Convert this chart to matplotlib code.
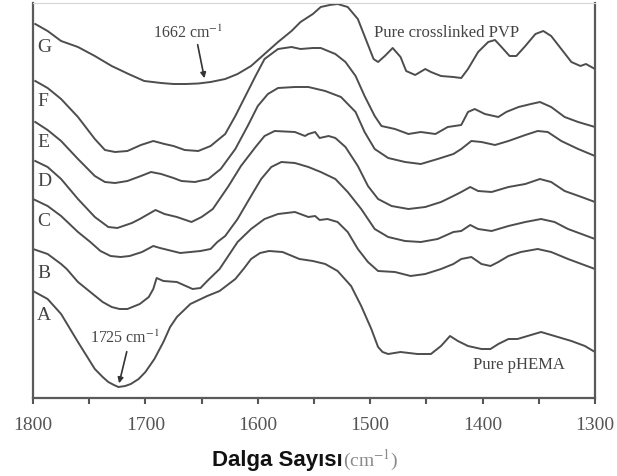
import matplotlib.pyplot as plt
from matplotlib.ticker import MultipleLocator

# FTIR spectra, offset curves A..G (y = transmittance, arbitrary units)
wn_G = [1798, 1787, 1775, 1760, 1745, 1730, 1715, 1701, 1686, 1675, 1664, 1653, 1642, 1629,
        1618, 1606, 1594, 1582, 1570, 1562, 1551, 1544, 1536, 1529, 1520, 1511, 1504, 1497,
        1493, 1487, 1480, 1473, 1468, 1460, 1451, 1446, 1437, 1426, 1419, 1413, 1404, 1395,
        1389, 1384, 1376, 1370, 1362, 1353, 1346, 1339, 1330, 1321, 1313, 1308, 1300]
t_G = [375, 368, 358, 352, 343, 333, 325, 318, 316, 315, 315, 315.5, 317, 320,
       325, 333, 345, 357, 368, 377, 385, 392, 394, 395, 392, 380, 360, 340,
       337, 343, 351, 342, 328, 324, 330, 327, 323, 322, 321, 330, 347, 357,
       359, 353, 343, 343, 353, 365, 368, 363, 350, 337, 333, 335, 330]

wn_F = [1798, 1787, 1775, 1760, 1745, 1736, 1727, 1716, 1704, 1693, 1683, 1675, 1665, 1653,
        1642, 1629, 1620, 1611, 1602, 1594, 1582, 1570, 1562, 1551, 1544, 1531, 1522, 1513,
        1505, 1496, 1490, 1478, 1466, 1455, 1442, 1431, 1419, 1413, 1407, 1398, 1386, 1379,
        1368, 1357, 1349, 1339, 1327, 1315, 1300]
t_F = [318, 311, 300, 282, 260, 249, 247, 248, 254, 258, 255, 253, 249, 248,
       253, 265, 283, 303, 323, 340, 350, 352, 350, 351, 351, 345, 337, 323,
       303, 283, 273, 270, 265, 267, 265, 272, 274, 287, 290, 285, 282, 287,
       292, 295, 297, 292, 282, 277, 272]

wn_E = [1798, 1787, 1775, 1760, 1745, 1736, 1727, 1716, 1704, 1695, 1686, 1675, 1668, 1656,
        1644, 1633, 1620, 1609, 1600, 1591, 1582, 1567, 1555, 1540, 1526, 1513, 1505, 1496,
        1484, 1469, 1455, 1440, 1426, 1419, 1410, 1401, 1389, 1377, 1362, 1351, 1342, 1330,
        1315, 1300]
t_E = [277, 269, 258, 240, 223, 217, 216, 218, 223, 227, 225, 221, 218, 217,
       220, 230, 250, 273, 293, 305, 311, 312, 312, 308, 302, 287, 267, 250,
       241, 237, 235, 240, 245, 250, 258, 257, 254, 258, 264, 268, 267, 258,
       250, 243]

wn_D = [1798, 1787, 1775, 1760, 1745, 1733, 1725, 1712, 1705, 1691, 1683, 1672, 1659, 1650,
        1640, 1626, 1615, 1602, 1594, 1585, 1567, 1558, 1555, 1549, 1545, 1537, 1531, 1522,
        1511, 1502, 1493, 1481, 1466, 1451, 1437, 1426, 1419, 1411, 1404, 1392, 1377, 1362,
        1349, 1339, 1327, 1312, 1300]
t_D = [238, 232, 220, 200, 182, 172, 171, 176, 180, 189, 185, 182, 177, 182,
       190, 213, 233, 252, 263, 268, 267, 263, 265, 267, 261, 263, 261, 252,
       233, 213, 200, 193, 190, 192, 197, 203, 207, 212, 208, 207, 212, 215,
       220, 217, 208, 202, 197]

wn_C = [1800, 1787, 1775, 1760, 1749, 1740, 1731, 1722, 1714, 1703, 1693, 1687, 1669, 1651,
        1642, 1636, 1629, 1618, 1606, 1597, 1588, 1579, 1567, 1555, 1544, 1531, 1520, 1508,
        1496, 1484, 1469, 1455, 1440, 1426, 1419, 1411, 1404, 1392, 1377, 1362, 1348, 1336,
        1324, 1312, 1300]
t_C = [200, 193, 183, 167, 157, 148, 143, 142, 143, 147, 153, 151, 146, 148,
       150, 157, 163, 180, 203, 220, 232, 237, 236, 232, 227, 220, 207, 190,
       170, 162, 158, 157, 160, 167, 168, 174, 170, 168, 173, 177, 180, 177,
       170, 165, 160]

wn_B = [1800, 1787, 1775, 1770, 1760, 1749, 1738, 1730, 1723, 1716, 1705, 1697, 1693, 1690,
        1684, 1672, 1658, 1651, 1645, 1634, 1618, 1606, 1594, 1582, 1567, 1555, 1549, 1545,
        1538, 1529, 1520, 1511, 1502, 1493, 1478, 1464, 1451, 1437, 1426, 1419, 1410, 1401,
        1393, 1386, 1377, 1366, 1351, 1339, 1324, 1312, 1300]
t_B = [150, 145, 135, 130, 117, 107, 97, 92, 90, 90, 95, 102, 110, 121,
       118, 117, 110, 111, 118, 130, 157, 170, 180, 185, 187, 182, 183, 179,
       180, 177, 167, 150, 137, 128, 127, 123, 125, 130, 135, 140, 142, 135,
       133, 137, 143, 147, 150, 147, 140, 135, 130]

wn_A = [1800, 1787, 1775, 1760, 1745, 1738, 1733, 1728, 1724, 1718, 1713, 1706, 1700, 1692,
        1684, 1678, 1672, 1660, 1645, 1634, 1620, 1612, 1606, 1598, 1590, 1578, 1563, 1551,
        1540, 1529, 1517, 1508, 1499, 1493, 1489, 1484, 1473, 1458, 1446, 1437, 1429, 1422,
        1413, 1401, 1393, 1386, 1377, 1369, 1360, 1348, 1336, 1321, 1309, 1300]
t_A = [108, 100, 85, 57, 30, 22, 17, 14, 12, 13, 15, 20, 27, 40,
       57, 72, 82, 95, 103, 108, 120, 131, 140, 146, 148, 147, 140, 138,
       135, 128, 113, 93, 70, 52, 47, 45, 47, 45, 45, 53, 63, 58,
       53, 50, 50, 55, 60, 60, 63, 67, 63, 58, 53, 47]

curve_labels = ['G', 'F', 'E', 'D', 'C', 'B', 'A']
label_y = [352, 298, 257, 218, 178, 127, 85]

line_col = '#4d4d4d'
serif = ['Liberation Serif', 'DejaVu Serif']
plt.rcParams['mathtext.fontset'] = 'stix'

fig = plt.figure(figsize=(6.17, 4.77), dpi=100)
ax = fig.add_axes([33 / 617, 1 - 399 / 477, 562 / 617, 395 / 477])

for wn, t in [(wn_G, t_G), (wn_F, t_F), (wn_E, t_E), (wn_D, t_D),
              (wn_C, t_C), (wn_B, t_B), (wn_A, t_A)]:
    ax.plot(wn, t, color=line_col, lw=1.4, solid_joinstyle='round')

for lab, y in zip(curve_labels, label_y):
    ax.text(1796.5, y, lab, family=serif, fontsize=14, color='#444444',
            ha='left', va='center')

# annotations
ax.text(1662, 367, '1662 cm$^{-1}$', family=serif, fontsize=11.5, color='#444444',
        ha='center', va='center')
ax.annotate('', xy=(1647, 318), xytext=(1654, 357),
            arrowprops=dict(arrowstyle='-|>', color='#333333', lw=1.2, mutation_scale=8))
ax.text(1718, 62, '1725 cm$^{-1}$', family=serif, fontsize=11.5, color='#444444',
        ha='center', va='center')
ax.annotate('', xy=(1724, 13), xytext=(1716, 50),
            arrowprops=dict(arrowstyle='-|>', color='#333333', lw=1.2, mutation_scale=8))
ax.text(1432, 367, 'Pure crosslinked PVP', family=serif, fontsize=12, color='#444444',
        ha='center', va='center')
ax.text(1368, 35, 'Pure pHEMA', family=serif, fontsize=12, color='#444444',
        ha='center', va='center')

ax.set_xlim(1800, 1300)
ax.set_ylim(1, 396)
ax.set_yticks([])
ax.xaxis.set_major_locator(MultipleLocator(100))
ax.xaxis.set_minor_locator(MultipleLocator(50))
ax.tick_params(axis='x', which='both', direction='out', length=4, width=1.5,
               color='#555555', labelcolor='#555555', pad=9)
for lbl in ax.get_xticklabels():
    lbl.set_family(serif)
    lbl.set_fontsize(14)

for side in ['left', 'bottom', 'right']:
    ax.spines[side].set_color('#5a5a5a')
    ax.spines[side].set_linewidth(1.6)
ax.spines['top'].set_color('#d5d5d5')
ax.spines['top'].set_linewidth(0.8)

# x axis title, mixed fonts
fig.text(343 / 617, 1 - 466 / 477, 'Dalga Sayısı', family='Liberation Sans',
         fontweight='bold', fontsize=16, color='#111111', ha='right', va='baseline')
fig.text(343 / 617, 1 - 466 / 477, '(cm$^{-1}$)', family=serif, fontsize=14,
         color='#8a8a8a', ha='left', va='baseline')

fig.savefig('out.png', dpi=100)
